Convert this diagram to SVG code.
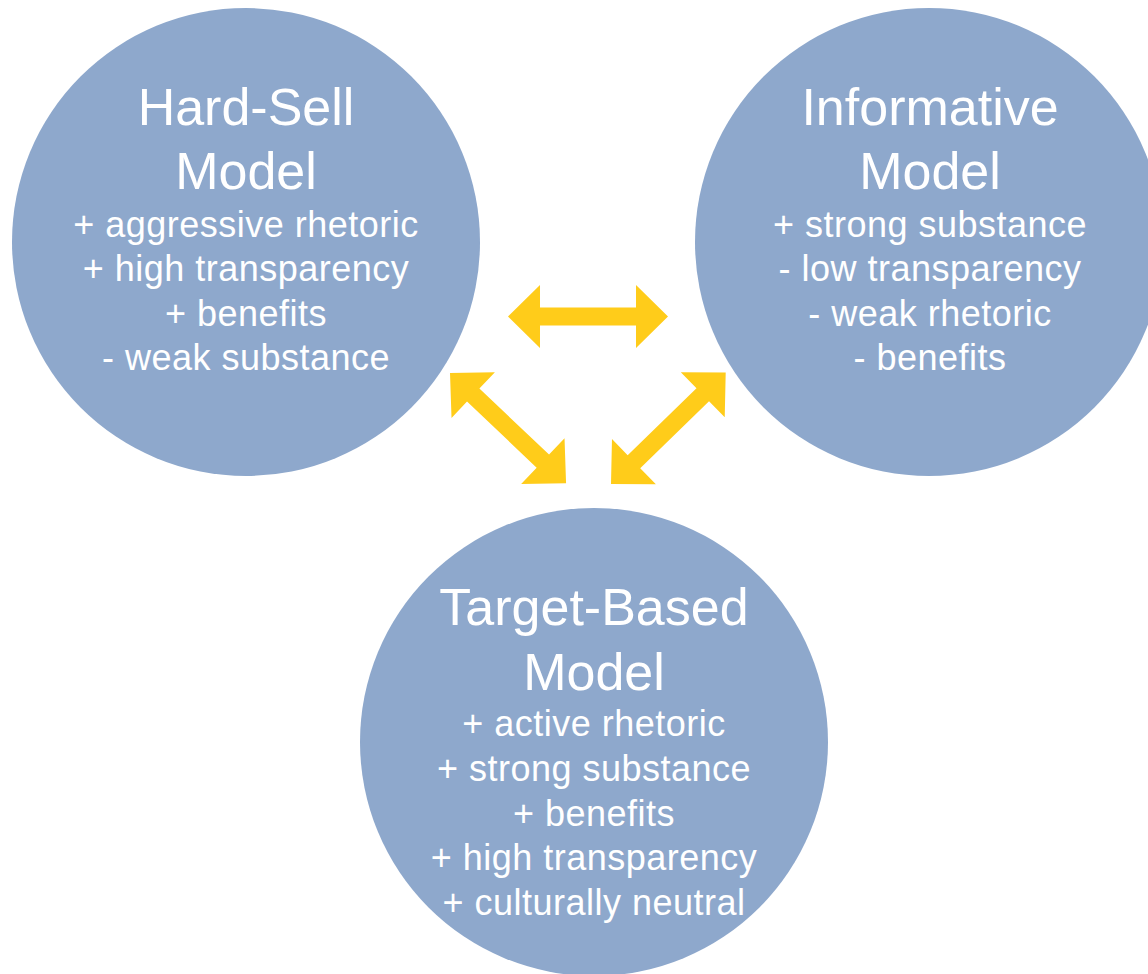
<svg xmlns="http://www.w3.org/2000/svg" width="1148" height="974" viewBox="0 0 1148 974">
  <style>
    .node { fill: #8EA8CC; }
    .title { font-family: "Liberation Sans", Arial, sans-serif; font-size: 52px; fill: #FFFFFF; text-anchor: middle; }
    .body { font-family: "Liberation Sans", Arial, sans-serif; font-size: 36px; letter-spacing: 0.5px; fill: #FFFFFF; text-anchor: middle; }
    .arrow { fill: #FFCC1A; }
  </style>
  <defs>
    <path id="dblArrow" d="M0,0 L32,-31.5 L32,-9 L128,-9 L128,-31.5 L160,0 L128,31.5 L128,9 L32,9 L32,31.5 Z"/>
  </defs>
  <rect x="0" y="0" width="1148" height="974" fill="#FFFFFF"/>

  <g id="hard-sell">
    <circle class="node" cx="246" cy="242" r="234"/>
    <text class="title" x="246" y="125">Hard-Sell</text>
    <text class="title" x="246" y="189">Model</text>
    <text class="body" x="246" y="237">+ aggressive rhetoric</text>
    <text class="body" x="246" y="281">+ high transparency</text>
    <text class="body" x="246" y="326">+ benefits</text>
    <text class="body" x="246" y="370">- weak substance</text>
  </g>

  <g id="informative">
    <circle class="node" cx="929" cy="242" r="234"/>
    <text class="title" x="930" y="125">Informative</text>
    <text class="title" x="930" y="189">Model</text>
    <text class="body" x="930" y="237">+ strong substance</text>
    <text class="body" x="930" y="281">- low transparency</text>
    <text class="body" x="930" y="326">- weak rhetoric</text>
    <text class="body" x="930" y="370">- benefits</text>
  </g>

  <g id="target-based">
    <circle class="node" cx="594" cy="742" r="234"/>
    <text class="title" x="594" y="625">Target-Based</text>
    <text class="title" x="594" y="690">Model</text>
    <text class="body" x="594" y="736">+ active rhetoric</text>
    <text class="body" x="594" y="781">+ strong substance</text>
    <text class="body" x="594" y="826">+ benefits</text>
    <text class="body" x="594" y="870">+ high transparency</text>
    <text class="body" x="594" y="915">+ culturally neutral</text>
  </g>

  <g id="connectors" class="arrow">
    <use href="#dblArrow" transform="translate(508,316.5)"/>
    <use href="#dblArrow" transform="translate(450,373) rotate(43.5)"/>
    <use href="#dblArrow" transform="translate(611,484) rotate(-44.2)"/>
  </g>
</svg>
